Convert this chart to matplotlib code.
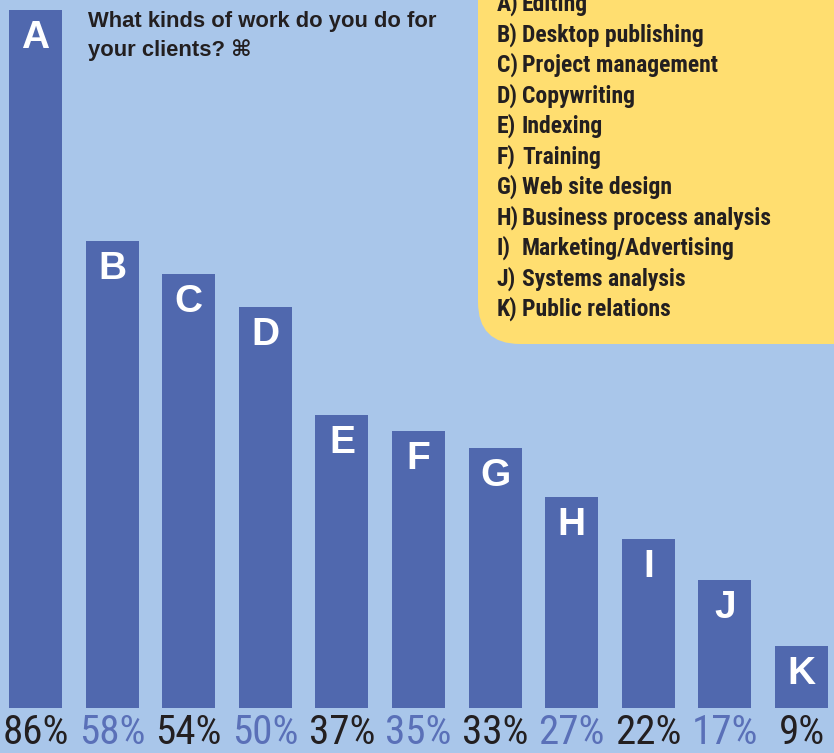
import matplotlib
matplotlib.use("Agg")
import matplotlib.pyplot as plt
import matplotlib.font_manager as fm
from matplotlib.patches import FancyBboxPatch
from matplotlib.transforms import blended_transform_factory

letters = ["A", "B", "C", "D", "E", "F", "G", "H", "I", "J", "K"]
percent = [86, 58, 54, 50, 37, 35, 33, 27, 22, 17, 9]
tasks = ["Editing", "Desktop publishing", "Project management", "Copywriting",
         "Indexing", "Training", "Web site design", "Business process analysis",
         "Marketing/Advertising", "Systems analysis", "Public relations"]
title_lines = ["What kinds of work do you do for", "your clients? \u2318"]

bg = "#a9c6ea"
bar_col = "#5068ae"
yellow = "#ffde70"
dark = "#231f20"
blue_txt = "#5a70b8"

# pick a narrow face if there is one
names = {f.name for f in fm.fontManager.ttflist}
narrow = "Liberation Sans"
for cand in ["Roboto Condensed", "Liberation Sans Narrow", "Open Sans Condensed", "DejaVu Sans"]:
    if cand in names:
        narrow = cand
        break
stretch = "condensed" if narrow == "DejaVu Sans" else "normal"

W, H = 834, 753
fig = plt.figure(figsize=(W / 100, H / 100), dpi=100)
fig.patch.set_facecolor(bg)

bottom_px = 45
ax = fig.add_axes([0, bottom_px / H, 1, (H - bottom_px) / H])
ax.set_facecolor(bg)
x = list(range(len(letters)))
ax.bar(x, percent, width=0.69, color=bar_col, zorder=2)
ax.set_xlim(-0.463, 10.424)
ax.set_ylim(1.5, 87.2)
ax.axis("off")

for i, (l, v) in enumerate(zip(letters, percent)):
    ax.annotate(l, (i, v), xytext=(0, -38 * 0.72), textcoords="offset points",
                ha="center", va="baseline", color="white", fontsize=28,
                fontweight="heavy", family="Liberation Sans", zorder=3)

# percentages under the bars
tr = blended_transform_factory(ax.transData, ax.transAxes)
y_lab = (9 - bottom_px) / (H - bottom_px)
for i, v in enumerate(percent):
    ax.text(i, y_lab, f"{v}%", transform=tr, ha="center", va="baseline",
            fontsize=29.5, family=narrow, fontstretch=stretch,
            color=dark if i % 2 == 0 else blue_txt, clip_on=False)

# overlay in pixel coordinates for the title and the key box
ov = fig.add_axes([0, 0, 1, 1], facecolor="none")
ov.set_xlim(0, W)
ov.set_ylim(H, 0)
ov.axis("off")

box = FancyBboxPatch((478, -80), 460, 424, boxstyle="round,pad=0,rounding_size=42",
                     facecolor=yellow, edgecolor="none")
ov.add_patch(box)

ov.text(88, 27, title_lines[0], fontsize=15.8, fontweight="bold", color=dark,
        family=["Liberation Sans", "DejaVu Sans"], va="baseline")
ov.text(88, 56, title_lines[1], fontsize=15.8, fontweight="bold", color=dark,
        family=["Liberation Sans", "DejaVu Sans"], va="baseline")

for i, (l, t) in enumerate(zip(letters, tasks)):
    yb = 11 + 30.5 * i
    ov.text(497, yb, l + ")", fontsize=17, family=narrow, fontstretch=stretch,
            fontweight="bold", color=dark, va="baseline")
    ov.text(522, yb, t, fontsize=17, family=narrow, fontstretch=stretch,
            fontweight="bold", color=dark, va="baseline")

fig.savefig("out.png", dpi=100, facecolor=bg)
